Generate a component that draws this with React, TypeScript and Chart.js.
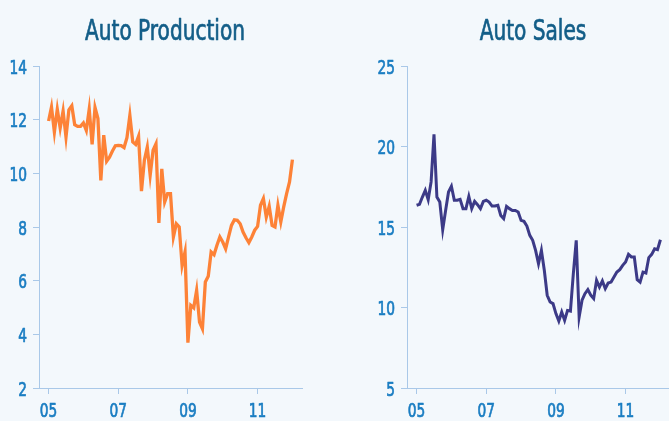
import React, { useEffect, useRef } from "react";
import { Chart, registerables } from "chart.js";

Chart.register(...registerables);

// Monthly data, Jan 2005 .. Jan 2012 (85 months)
const productionValues = [
  11.95, 12.47, 11.54, 12.39, 11.69, 12.32, 11.35, 12.37, 12.52, 11.81,
  11.75, 11.75, 11.88, 11.6, 12.39, 11.08, 12.45, 12.04, 9.74, 11.42,
  10.45, 10.6, 10.83, 11.03, 11.04, 11.03, 10.96, 11.33, 12.16, 11.17,
  11.08, 11.38, 9.34, 10.49, 10.98, 9.93, 10.86, 11.1, 8.15, 10.17,
  8.93, 9.24, 9.24, 7.63, 8.12, 8.0, 6.57, 7.07, 3.69, 5.08,
  4.99, 5.64, 4.46, 4.21, 5.95, 6.16, 7.07, 6.97, 7.32, 7.63,
  7.44, 7.19, 7.63, 8.06, 8.27, 8.25, 8.12, 7.81, 7.6, 7.42,
  7.63, 7.88, 8.02, 8.81, 9.06, 8.37, 8.77, 8.06, 8.0, 8.81,
  8.19, 8.75, 9.24, 9.68, 10.51,
];

const salesValues = [
  16.35, 16.41, 16.86, 17.28, 16.7, 17.8, 20.76, 16.86, 16.55, 14.83,
  16.03, 17.17, 17.53, 16.66, 16.66, 16.72, 16.14, 16.14, 16.9, 16.14,
  16.59, 16.39, 16.14, 16.59, 16.66, 16.55, 16.3, 16.3, 16.35, 15.72,
  15.52, 16.28, 16.14, 16.03, 16.03, 15.93, 15.41, 15.35, 15.06, 14.48,
  14.17, 13.55, 12.72, 13.55, 12.31, 10.76, 10.34, 10.24, 9.62, 9.16,
  9.72, 9.2, 9.82, 9.78, 12.1, 14.17, 9.41, 10.45, 10.86, 11.11,
  10.76, 10.55, 11.69, 11.27, 11.65, 11.17, 11.52, 11.58, 11.89, 12.2,
  12.35, 12.62, 12.83, 13.3, 13.14, 13.14, 11.73, 11.58, 12.2, 12.14,
  13.1, 13.3, 13.65, 13.59, 14.21,
];

const xTickPositions = [0, 24, 48, 72];
const xTickLabels = ["05", "07", "09", "11"];

const productionTicks = [2, 4, 6, 8, 10, 12, 14];
const salesTicks = [5, 10, 15, 20, 25];

const FONT = '"Liberation Sans Narrow", "DejaVu Sans Condensed", "Arial Narrow", sans-serif';
const BG = "#f3f8fc";
const AXIS = "#a9c8e8";
const TICK_TEXT = "#1a7dc2";
const TITLE_TEXT = "#135e88";

function drawSqueezed(
  ctx: CanvasRenderingContext2D,
  text: string,
  x: number,
  y: number,
  align: CanvasTextAlign,
  sx: number,
  strokeW: number
) {
  ctx.save();
  ctx.translate(x, y);
  ctx.scale(sx, 1);
  ctx.textAlign = align;
  ctx.textBaseline = "alphabetic";
  ctx.fillText(text, 0, 0);
  if (strokeW > 0) {
    ctx.strokeStyle = ctx.fillStyle as string;
    ctx.lineWidth = strokeW;
    ctx.lineJoin = "round";
    ctx.strokeText(text, 0, 0);
  }
  ctx.restore();
}

const textPlugin = {
  id: "panelText",
  afterDraw(chart: any) {
    const opts = chart.options.plugins.panelText;
    if (!opts) return;
    const { ctx } = chart;
    ctx.save();
    ctx.font = `28px ${FONT}`;
    ctx.fillStyle = TITLE_TEXT;
    const titleScale = 160 / ctx.measureText("Auto Production").width;
    drawSqueezed(ctx, opts.text, opts.x, opts.y, "center", titleScale, 0.7);

    ctx.font = `20px ${FONT}`;
    ctx.fillStyle = TICK_TEXT;
    const tickScale = 17.5 / ctx.measureText("14").width;
    const xs = chart.scales.x;
    const ys = chart.scales.y;
    xs.ticks.forEach((t: any) => {
      const idx = xTickPositions.indexOf(t.value);
      if (idx < 0) return;
      drawSqueezed(ctx, xTickLabels[idx], xs.getPixelForValue(t.value), xs.bottom - 4.5, "center", tickScale, 0.7);
    });
    ys.ticks.forEach((t: any) => {
      drawSqueezed(ctx, String(t.value), ys.right - 12, ys.getPixelForValue(t.value) + 7.8, "right", tickScale, 0.7);
    });
    ctx.restore();
  },
};

function makeConfig(title: string, values: number[], color: string, width: number, yTicks: number[]) {
  return {
    type: "line" as const,
    data: {
      datasets: [
        {
          data: values.map((v, i) => ({ x: i, y: v })),
          borderColor: color,
          borderWidth: width,
          pointRadius: 0,
          tension: 0,
          fill: false,
        },
      ],
    },
    plugins: [textPlugin],
    options: {
      responsive: false,
      animation: false,
      devicePixelRatio: 1,
      layout: { padding: { top: 66, right: 66, left: 0, bottom: 0 } },
      plugins: {
        legend: { display: false },
        tooltip: { enabled: false },
        title: { display: false },
        panelText: { text: title, x: 165, y: 39.5 },
      },
      scales: {
        x: {
          type: "linear" as const,
          min: -3.3,
          max: 87.3,
          afterFit(scale: any) {
            scale.height = 33;
          },
          afterBuildTicks(scale: any) {
            scale.ticks = xTickPositions.map((v) => ({ value: v }));
          },
          ticks: { display: false },
          grid: { drawOnChartArea: false, drawTicks: true, tickLength: 6, color: AXIS, lineWidth: 1 },
          border: { display: true, color: AXIS, width: 1 },
        },
        y: {
          type: "linear" as const,
          min: yTicks[0],
          max: yTicks[yTicks.length - 1],
          afterFit(scale: any) {
            scale.width = 39;
          },
          afterBuildTicks(scale: any) {
            scale.ticks = yTicks.map((v) => ({ value: v }));
          },
          ticks: { display: false },
          grid: { drawOnChartArea: false, drawTicks: true, tickLength: 6, color: AXIS, lineWidth: 1 },
          border: { display: true, color: AXIS, width: 1 },
        },
      },
    },
  };
}

function Panel({ title, values, color, width, yTicks, left }: any) {
  const ref = useRef<HTMLCanvasElement | null>(null);
  useEffect(() => {
    if (!ref.current) return;
    const chart = new Chart(ref.current, makeConfig(title, values, color, width, yTicks) as any);
    return () => chart.destroy();
  }, []);
  return (
    <canvas
      ref={ref}
      width={368}
      height={421}
      style={{ position: "absolute", left, top: 0, width: 368, height: 421 }}
    />
  );
}

export default function App() {
  useEffect(() => {
    document.body.style.margin = "0";
    document.body.style.background = BG;
  }, []);
  return (
    <div
      style={{
        position: "fixed",
        left: 0,
        top: 0,
        width: 669,
        height: 421,
        overflow: "hidden",
        background: BG,
      }}
    >
      <Panel title="Auto Production" values={productionValues} color="#fd8237" width={3.3} yTicks={productionTicks} left={0} />
      <Panel title="Auto Sales" values={salesValues} color="#3c3a87" width={3} yTicks={salesTicks} left={368} />
    </div>
  );
}
